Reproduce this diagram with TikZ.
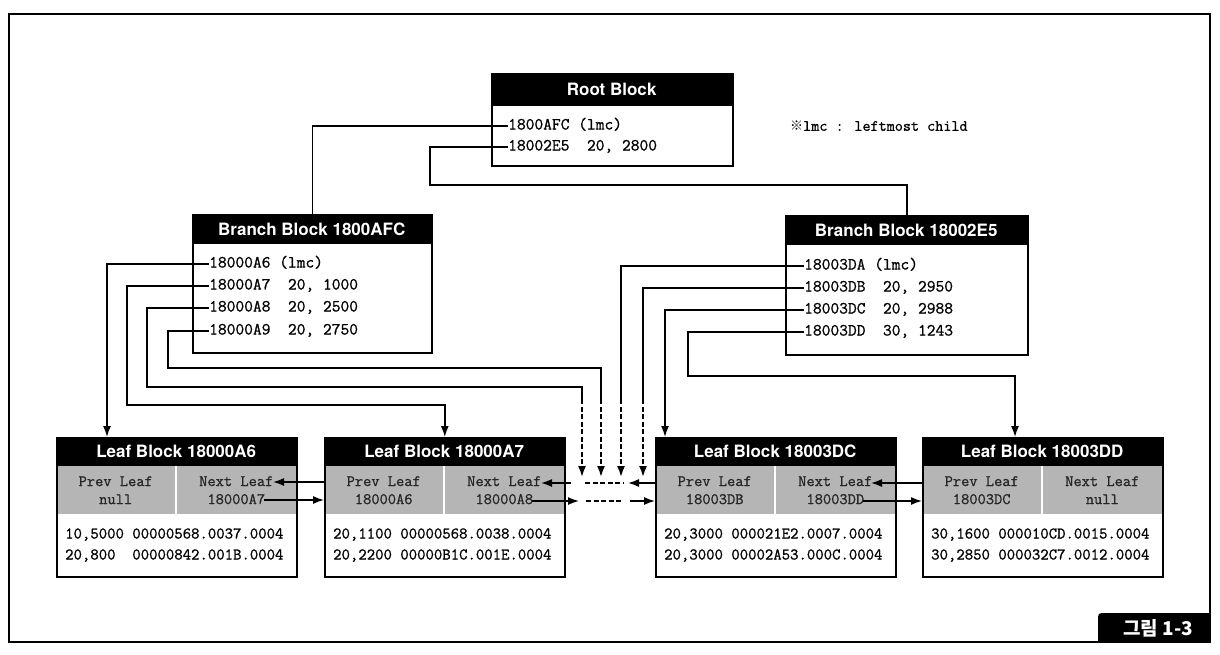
\documentclass[tikz,border=0pt]{standalone}
\usepackage{fontspec}
\newfontfamily\mono{Latin Modern Mono}[FakeBold=1]
\newfontfamily\hfont{TeX Gyre Heros}
\newfontfamily\kr{Noto Sans CJK KR}
\usetikzlibrary{arrows.meta}
\tikzset{
 conn/.style={line width=1.5pt},
 arr/.style={conn, -{Latex[length=11pt,width=8pt]}},
 dsh/.style={line width=1.8pt, dash pattern=on 5pt off 2.5pt},
 dsharr/.style={dsh, -{Latex[length=11pt,width=8pt]}},
 blk/.style={draw, line width=1.6pt, inner sep=0, anchor=north west},
 hdr/.style={fill=black, text=white, font=\hfont\bfseries\fontsize{17}{20}\selectfont, inner sep=0, anchor=north west},
 row/.style={font=\mono\fontsize{17}{20}\selectfont, inner sep=0, anchor=west, text height=10pt, text depth=3pt},
 cellbox/.style={fill=gray!58, font=\mono\fontsize{16}{18}\selectfont, align=center, inner sep=0, minimum width=119, minimum height=48, text=black!85},
 datarow/.style={font=\mono\fontsize{16.3}{21}\selectfont, inner sep=0, anchor=west, text height=10pt, text depth=3pt},
}
\newcommand{\leafblock}[7]{%
 \node[hdr, minimum width=240, minimum height=29] (#1h) at (#2,437) {Leaf Block #3};
 \node[cellbox, anchor=north west] (#1p) at (#2,466) {Prev Leaf\\#4};
 \node[cellbox, anchor=north east] (#1n) at (#2+240,466) {Next Leaf\\#5};
 \node[datarow] (#1d1) at (#2+9,535) {#6};
 \node[datarow] (#1d2) at (#2+9,556) {#7};
 \node[blk, minimum width=240, minimum height=139] (#1) at (#2,437) {};
}
\begin{document}
\begin{tikzpicture}[x=1pt,y=-1pt]
\useasboundingbox (0,0) rectangle (1220,654);
% frame
\draw[line width=1.3pt] (9,14) rectangle (1210,642);
% label
\fill (1098,642) -- (1098,621) .. controls (1098,613) .. (1106,613) -- (1210,613) -- (1210,642) -- cycle;
\node[text=white, font=\kr\bfseries\fontsize{19}{20}\selectfont, inner sep=0] (fig) at (1158,628) {그림 1-3};

% root
\node[hdr, minimum width=241, minimum height=33] (rh) at (491,73) {Root Block};
\node[row] (r1) at (508,126) {1800AFC (lmc)};
\node[row] (r2) at (508,147) {18002E5\ \ 20, 2800};
\node[blk, minimum width=241, minimum height=92] (root) at (491,73) {};
\node[anchor=west, inner sep=0] (note) at (790,126) {{\kr\fontsize{13}{15}\selectfont ※}{\mono\fontsize{15.7}{16}\selectfont lmc : leftmost child}};

% branch 1
\node[hdr, minimum width=239, minimum height=30] (b1h) at (192,214) {Branch Block 1800AFC};
\node[row] (a1) at (209,264) {18000A6 (lmc)};
\node[row] (a2) at (209,286) {18000A7\ \ 20, 1000};
\node[row] (a3) at (209,308) {18000A8\ \ 20, 2500};
\node[row] (a4) at (209,331) {18000A9\ \ 20, 2750};
\node[blk, minimum width=239, minimum height=138] (b1) at (192,214) {};

% branch 2
\node[hdr, minimum width=242, minimum height=30] (b2h) at (785,215) {Branch Block 18002E5};
\node[row] (d1) at (804,266) {18003DA (lmc)};
\node[row] (d2) at (804,288) {18003DB\ \ 20, 2950};
\node[row] (d3) at (804,310) {18003DC\ \ 20, 2988};
\node[row] (d4) at (804,332) {18003DD\ \ 30, 1243};
\node[blk, minimum width=242, minimum height=139] (b2) at (785,215) {};

% leaves
\leafblock{A6}{56}{18000A6}{null}{18000A7}{10,5000 00000568.0037.0004}{20,800\ \ 00000842.001B.0004}
\leafblock{A7}{324}{18000A7}{18000A6}{18000A8}{20,1100 00000568.0038.0004}{20,2200 00000B1C.001E.0004}
\leafblock{DC}{655}{18003DC}{18003DB}{18003DD}{20,3000 000021E2.0007.0004}{20,3000 00002A53.000C.0004}
\leafblock{DD}{922}{18003DD}{18003DC}{null}{30,1600 000010CD.0015.0004}{30,2850 000032C7.0012.0004}

% root connectors
\draw[conn] (r1.west) -| (b1.north);
\coordinate (rr) at (430,185);
\draw[conn] (r2.west) -| (rr) -| (b2.north);

% branch 1 connectors
\coordinate (c107) at (107,0);
\draw[arr] (a1.west) -| (A6.north -| c107);
\coordinate (k2) at (127,405);
\draw[arr] (a2.west) -| (k2) -| (A7.north);
\coordinate (k3) at (147,387);
\coordinate (e1) at (582,399);
\coordinate (f1) at (582,477);
\draw[conn] (a3.west) -| (k3) -| (e1);
\draw[dsharr] (e1) -- (f1);
\coordinate (k4) at (168,368);
\coordinate (e2) at (601,399);
\coordinate (f2) at (601,477);
\draw[conn] (a4.west) -| (k4) -| (e2);
\draw[dsharr] (e2) -- (f2);

% branch 2 connectors
\coordinate (e3) at (621,399);
\coordinate (f3) at (621,477);
\draw[conn] (d1.west) -| (e3);
\draw[dsharr] (e3) -- (f3);
\coordinate (e4) at (643,399);
\coordinate (f4) at (643,477);
\draw[conn] (d2.west) -| (e4);
\draw[dsharr] (e4) -- (f4);
\coordinate (c665) at (665,0);
\draw[arr] (d3.west) -| (DC.north -| c665);
\coordinate (k8) at (688,376);
\coordinate (c1015) at (1015,0);
\draw[arr] (d4.west) -| (k8) -| (DD.north -| c1015);

% leaf links A6 - A7
\coordinate (p1) at (273,482);
\draw[arr] (A7.west |- p1) -- (p1);
\coordinate (q1) at (264,500);
\draw[arr] (q1) -- (A7.west |- q1);

% leaf links A7 - DC (omitted leaves)
\coordinate (p2) at (541,483);
\coordinate (p2s) at (571,483);
\draw[arr] (p2s) -- (p2);
\coordinate (p2a) at (585,483);
\coordinate (p2b) at (623,483);
\draw[dsh] (p2a) -- (p2b);
\coordinate (p2c) at (628,483);
\draw[arr] (DC.west |- p2c) -- (p2c);
\coordinate (q2) at (532,501);
\coordinate (q2e) at (579,501);
\draw[arr] (q2) -- (q2e);
\coordinate (q2a) at (586,501);
\coordinate (q2b) at (622,501);
\draw[dsh] (q2a) -- (q2b);
\coordinate (q2s) at (630,501);
\draw[arr] (q2s) -- (DC.west |- q2s);

% leaf links DC - DD
\coordinate (p3) at (871,483);
\draw[arr] (DD.west |- p3) -- (p3);
\coordinate (q3) at (863,501);
\draw[arr] (q3) -- (DD.west |- q3);
\end{tikzpicture}
\end{document}
